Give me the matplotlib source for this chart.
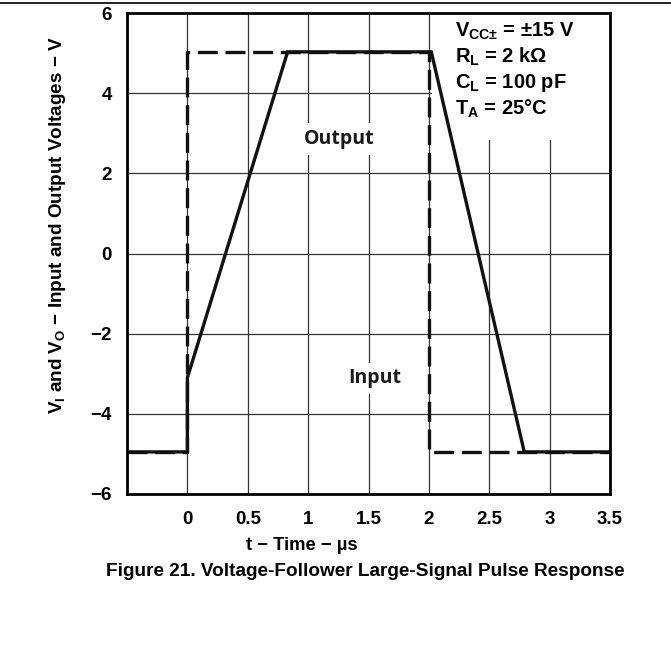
import matplotlib
matplotlib.use("Agg")
import matplotlib.pyplot as plt
from matplotlib.patches import Rectangle
from matplotlib.lines import Line2D

# ---- data ----
t_input = [-0.5, 0.0, 0.0, 2.0, 2.0, 3.5]
v_input = [-4.95, -4.95, 5.03, 5.03, -4.95, -4.95]
t_output = [-0.5, 0.0, 0.0, 0.83, 2.02, 2.79, 3.5]
v_output = [-4.95, -4.95, -3.1, 5.03, 5.03, -4.95, -4.95]
x_ticks = [0, 0.5, 1, 1.5, 2, 2.5, 3, 3.5]
x_ticklabels = ["0", "0.5", "1", "1.5", "2", "2.5", "3", "3.5"]
y_ticks = [-6, -4, -2, 0, 2, 4, 6]
y_ticklabels = ["\u22126", "\u22124", "\u22122", "0", "2", "4", "6"]
conditions = ["V$_{CC\u00b1}$ = \u00b115 V", "R$_{L}$ = 2 k\u03a9",
              "C$_{L}$ = 100 pF", "T$_{A}$ = 25\u00b0C"]

plt.rcParams["font.family"] = ["Liberation Sans", "DejaVu Sans"]
plt.rcParams["font.weight"] = "bold"
plt.rcParams["mathtext.fontset"] = "custom"
plt.rcParams["mathtext.rm"] = "Liberation Sans:bold"
plt.rcParams["mathtext.it"] = "Liberation Sans:bold"
plt.rcParams["mathtext.bf"] = "Liberation Sans:bold"
plt.rcParams["mathtext.default"] = "rm"

fig = plt.figure(figsize=(6.71, 6.47), dpi=100)
ax = fig.add_axes([127/671, 1-494/647, 483/671, 481/647])

ax.set_xlim(-0.5, 3.5)
ax.set_ylim(-6, 6)
ax.set_xticks(x_ticks)
ax.set_xticklabels(x_ticklabels)
ax.set_yticks(y_ticks)
ax.set_yticklabels(y_ticklabels)
ax.tick_params(axis="x", length=0, labelsize=13.5, pad=12)
ax.tick_params(axis="y", length=0, labelsize=13.5, pad=11)
for lab in ax.get_xticklabels() + ax.get_yticklabels():
    lab.set_fontweight("bold")

# grid
for xv in [0, 0.5, 1, 1.5, 2, 2.5, 3]:
    ax.axvline(xv, color="#333333", lw=0.9, zorder=0.5)
for yv in [-4, -2, 0, 2, 4]:
    ax.axhline(yv, color="#333333", lw=0.9, zorder=0.5)

for s in ax.spines.values():
    s.set_linewidth(2.0)
    s.set_zorder(5)

# curves
ax.plot(t_input, v_input, color="#111111", lw=2.4, ls=(0, (6, 2.3)),
        zorder=3, solid_joinstyle="miter", dash_capstyle="butt")
ax.plot(t_output, v_output, color="#111111", lw=2.4, zorder=3,
        solid_joinstyle="miter")

# condition box
ax.add_patch(Rectangle((0.632, 0.736), 0.366, 0.262, transform=ax.transAxes,
                       facecolor="white", edgecolor="none", zorder=1))
for txt, yb in zip(conditions, [0.950, 0.896, 0.844, 0.788]):
    ax.text(0.679, yb, txt, transform=ax.transAxes, fontsize=14.5,
            fontweight="bold", va="baseline", ha="left", zorder=2)

# curve labels
ax.text(1.26, 2.86, "Output", fontsize=14, fontweight="bold",
        family=["Open Sans", "DejaVu Sans"], ha="center", va="center",
        color="#1a1a1a", zorder=2,
        bbox=dict(facecolor="white", edgecolor="none", pad=4))
ax.text(1.55, -3.11, "Input", fontsize=14, fontweight="bold",
        family=["Open Sans", "DejaVu Sans"], ha="center", va="center",
        color="#1a1a1a", zorder=2,
        bbox=dict(facecolor="white", edgecolor="none", pad=4))

# axis labels
fig.text(58/671, 1-225/647,
         "V$_{I}$ and V$_{O}$ \u2212 Input and Output Voltages \u2212 V",
         rotation=90, ha="center", va="center", fontsize=13.6, fontweight="bold")
fig.text(302/671, 1-546/647, "t \u2212 Time \u2212 \u00b5s", ha="center",
         va="center", fontsize=13.3, fontweight="bold")
fig.text(365/671, 1-572/647,
         "Figure 21. Voltage-Follower Large-Signal Pulse Response",
         ha="center", va="center", fontsize=13.7, fontweight="bold")

# top rule
fig.add_artist(Line2D([0, 1], [1-3/647, 1-3/647], transform=fig.transFigure,
                      color="black", lw=1.2))

fig.savefig("out.png", dpi=100)
